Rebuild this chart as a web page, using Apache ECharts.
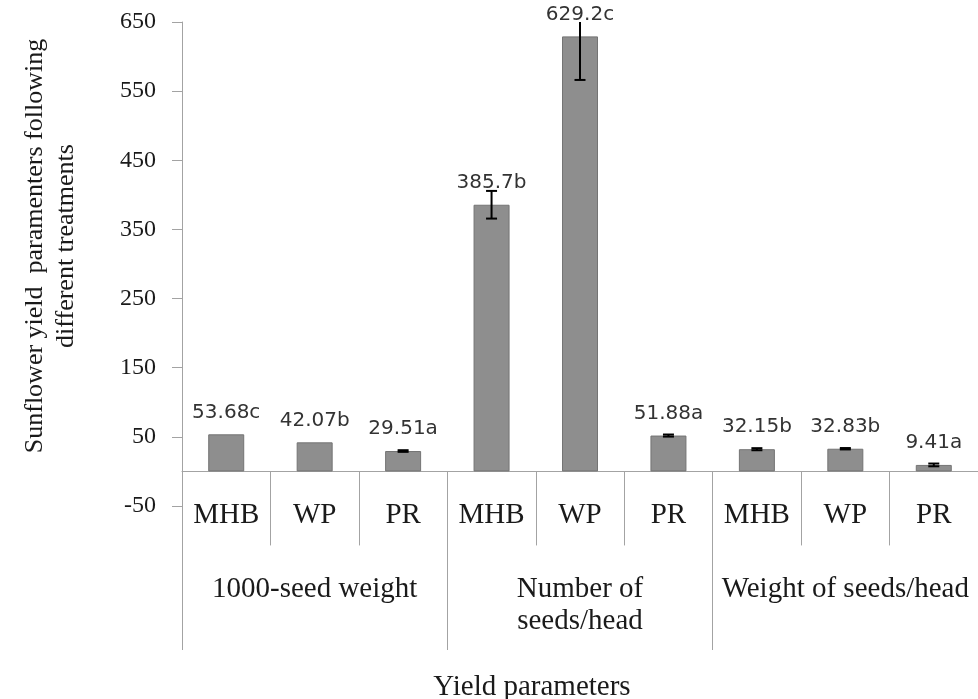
<!DOCTYPE html>
<html>
<head>
<meta charset="utf-8">
<script src="https://cdn.jsdelivr.net/npm/echarts@6/dist/echarts.min.js"></script>
<style>
  html, body { margin: 0; padding: 0; background: #fff; }
  #chart { width: 978px; height: 699px; }
</style>
</head>
<body>
<div id="chart"></div>
<script>
// Treatments within each yield parameter
const treatments = ['MHB', 'WP', 'PR', 'MHB', 'WP', 'PR', 'MHB', 'WP', 'PR'];
// Yield parameter groups (three treatments each)
const parameters = ['1000-seed weight', 'Number of\nseeds/head', 'Weight of seeds/head'];
// Mean values
const means = [53.68, 42.07, 29.51, 385.7, 629.2, 51.88, 32.15, 32.83, 9.41];
// Significance letters
const letters = ['c', 'b', 'a', 'b', 'c', 'a', 'b', 'b', 'a'];
// Error bar half-widths (null = no bar drawn)
const errors = [null, null, 1.2, 20, 63, 1.5, 1.5, 1, 2];
// Value axis ticks
const yMin = -50, yMax = 650, yStep = 100;

const serif = 'Liberation Serif';
const ink = '#1a1a1a';
const rule = '#a3a3a3';

const errData = means.map((m, i) => [i, m, errors[i]]).filter(d => d[2] != null);

const chart = echarts.init(document.getElementById('chart'), null, { renderer: 'canvas' });

chart.setOption({
  animation: false,
  backgroundColor: '#ffffff',
  grid: { left: 182, right: -1, top: 22, bottom: 193, containLabel: false },
  xAxis: [
    {
      type: 'category',
      position: 'bottom',
      data: treatments,
      axisLine: { onZero: true, lineStyle: { color: rule, width: 1 } },
      axisTick: { show: true, interval: 0, length: 74, alignWithLabel: false, lineStyle: { color: rule } },
      axisLabel: { interval: 0, margin: -7, fontFamily: serif, fontSize: 29, lineHeight: 32, color: ink },
      splitLine: { show: false }
    },
    {
      // group axis sits on the grid's bottom edge; its ticks carry the dividers down
      type: 'category',
      position: 'bottom',
      data: parameters,
      axisLine: { show: false, onZero: true },
      axisTick: { show: true, interval: 0, length: 144, alignWithLabel: false, lineStyle: { color: rule } },
      axisLabel: { interval: 0, margin: 67, fontFamily: serif, fontSize: 29, lineHeight: 32, color: ink, align: 'center' },
      splitLine: { show: false }
    }
  ],
  yAxis: {
    type: 'value',
    min: yMin,
    max: yMax,
    interval: yStep,
    axisLine: { show: true, onZero: false, lineStyle: { color: rule } },
    axisTick: { show: true, length: 10, lineStyle: { color: rule } },
    axisLabel: { margin: 26, fontFamily: serif, fontSize: 24, color: ink },
    splitLine: { show: false }
  },
  graphic: [
    {
      type: 'text',
      x: 51,
      y: 246,
      rotation: Math.PI / 2,
      style: {
        text: 'Sunflower yield  paramenters following\ndifferent treatments',
        font: '26px "Liberation Serif"',
        lineHeight: 31,
        fill: ink,
        align: 'center',
        verticalAlign: 'middle'
      }
    },
    {
      type: 'text',
      x: 532,
      y: 687,
      style: {
        text: 'Yield parameters',
        font: '29px "Liberation Serif"',
        fill: ink,
        align: 'center',
        verticalAlign: 'middle'
      }
    }
  ],
  series: [
    {
      type: 'bar',
      xAxisIndex: 0,
      data: means,
      barWidth: 36,
      itemStyle: { color: '#8e8e8e', borderColor: '#747474', borderWidth: 1 },
      label: {
        show: true,
        position: 'top',
        distance: 12,
        fontFamily: 'DejaVu Sans',
        fontSize: 20,
        color: '#333333',
        formatter: p => String(means[p.dataIndex]) + letters[p.dataIndex]
      },
      z: 2
    },
    {
      type: 'custom',
      xAxisIndex: 0,
      clip: true,
      data: errData,
      encode: { x: 0, y: 1 },
      z: 3,
      renderItem: (params, api) => {
        const idx = api.value(0);
        const m = api.value(1);
        const e = api.value(2);
        const hi = api.coord([idx, m + e]);
        const lo = api.coord([idx, m - e]);
        const half = 5.5;
        const style = { stroke: '#000', lineWidth: 2 };
        return {
          type: 'group',
          children: [
            { type: 'line', shape: { x1: hi[0], y1: hi[1], x2: lo[0], y2: lo[1] }, style },
            { type: 'line', shape: { x1: hi[0] - half, y1: hi[1], x2: hi[0] + half, y2: hi[1] }, style },
            { type: 'line', shape: { x1: lo[0] - half, y1: lo[1], x2: lo[0] + half, y2: lo[1] }, style }
          ]
        };
      }
    }
  ]
});
</script>
</body>
</html>
